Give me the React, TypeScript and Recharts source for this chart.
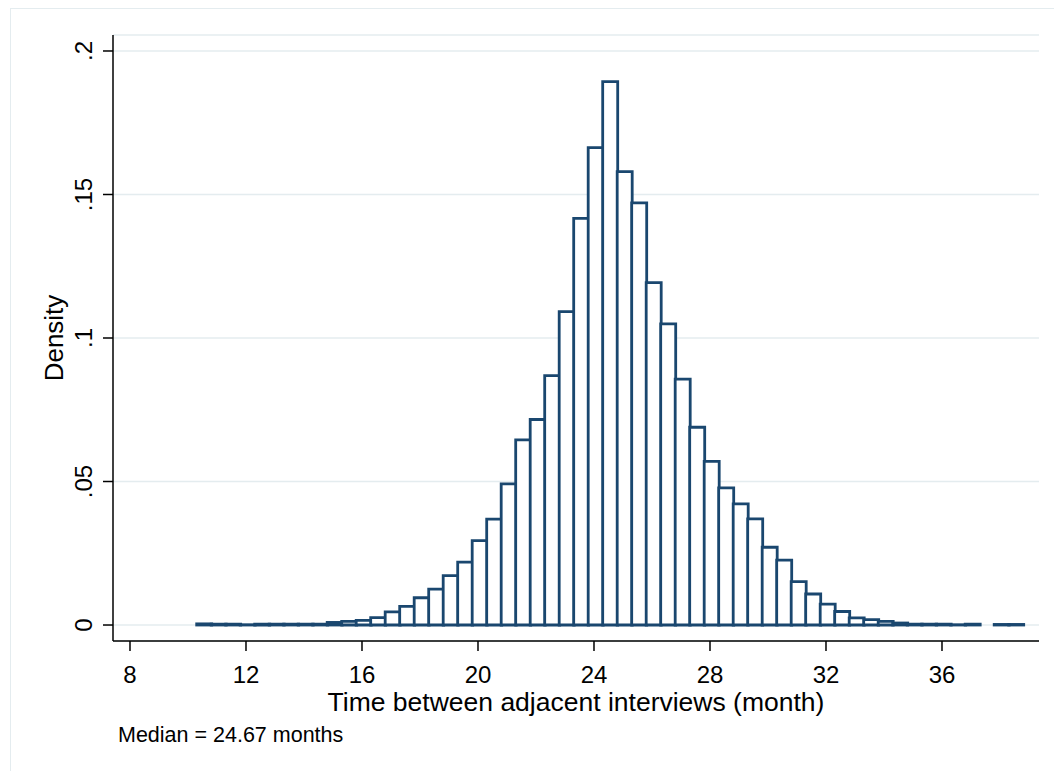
import { BarChart, Bar, XAxis, YAxis, CartesianGrid } from 'recharts';

// bin midpoints (months), bin width 0.5
const binMids = [
  10.55, 11.05, 11.55, 12.05, 12.55, 13.05, 13.55, 14.05, 14.55, 15.05,
  15.55, 16.05, 16.55, 17.05, 17.55, 18.05, 18.55, 19.05, 19.55, 20.05,
  20.55, 21.05, 21.55, 22.05, 22.55, 23.05, 23.55, 24.05, 24.55, 25.05,
  25.55, 26.05, 26.55, 27.05, 27.55, 28.05, 28.55, 29.05, 29.55, 30.05,
  30.55, 31.05, 31.55, 32.05, 32.55, 33.05, 33.55, 34.05, 34.55, 35.05,
  35.55, 36.05, 36.55, 37.05, 37.55, 38.05, 38.55,
];

const density = [
  0.0004, 0.0003, 0.0003, 0.0001, 0.0003, 0.0003, 0.0003, 0.0003, 0.0003, 0.0009,
  0.0013, 0.0016, 0.0026, 0.0046, 0.0065, 0.0095, 0.0125, 0.0172, 0.0219, 0.0294,
  0.0369, 0.0492, 0.0645, 0.0716, 0.0869, 0.1092, 0.1417, 0.1663, 0.1893, 0.158,
  0.1471, 0.1193, 0.1049, 0.0857, 0.0689, 0.057, 0.0478, 0.0422, 0.037, 0.0271,
  0.0226, 0.0151, 0.0108, 0.0073, 0.0047, 0.0025, 0.0019, 0.0013, 0.0007, 0.0003,
  0.0003, 0.0003, 0.0001, 0.0003, 0, 0.0002, 0.0002,
];

const xTicks = [8, 12, 16, 20, 24, 28, 32, 36];
const yTicks = [0, 0.05, 0.1, 0.15, 0.2];
const xTitle = 'Time between adjacent interviews (month)';
const yTitle = 'Density';
const note = 'Median = 24.67 months';

const NAVY = '#1a476f';
const GRID = '#e4ecef';
const FONT = '"Liberation Sans", Arial, Helvetica, sans-serif';

const data = binMids.map((mid, i) => ({ mid, density: density[i] }));

function fmtY(v: number) {
  return v === 0 ? '0' : String(v).replace(/^0/, '');
}

function YTick(props: any) {
  const { x, y, payload } = props;
  return (
    <text
      x={x}
      y={y}
      transform={`rotate(-90 ${x} ${y})`}
      textAnchor="middle"
      fontSize={24}
      fontFamily={FONT}
      fill="#000"
    >
      {fmtY(payload.value)}
    </text>
  );
}

export default function App() {
  return (
    <div
      style={{
        position: 'absolute',
        left: 0,
        top: 0,
        width: 1054,
        height: 771,
        overflow: 'hidden',
        background: '#fff',
        fontFamily: FONT,
      }}
    >
      <div
        style={{
          position: 'absolute',
          left: 10,
          top: 8,
          width: 1100,
          height: 800,
          border: `1.5px solid ${GRID}`,
        }}
      />
      <BarChart
        width={1054}
        height={771}
        data={data}
        margin={{ top: 35, right: 15, bottom: 80, left: 53 }}
        barCategoryGap={0}
        barGap={0}
        style={{ position: 'absolute', left: 0, top: 0 }}
      >
        <CartesianGrid vertical={false} stroke={GRID} strokeWidth={1.5} />
        <XAxis
          dataKey="mid"
          type="number"
          domain={[7.414, 39.345]}
          allowDataOverflow
          ticks={xTicks}
          interval={0}
          height={50}
          tickSize={10}
          tickMargin={15}
          axisLine={{ stroke: '#000', strokeWidth: 1.5 }}
          tickLine={{ stroke: '#000', strokeWidth: 1.5 }}
          tick={{ fontSize: 24, fill: '#000', fontFamily: FONT }}
        />
        <YAxis
          type="number"
          domain={[-0.00557, 0.20557]}
          allowDataOverflow
          ticks={yTicks}
          interval={0}
          width={60}
          tickSize={10}
          tickMargin={11}
          axisLine={{ stroke: '#000', strokeWidth: 1.5 }}
          tickLine={{ stroke: '#000', strokeWidth: 1.5 }}
          tick={<YTick />}
        />
        <Bar
          dataKey="density"
          fill="#fff"
          stroke={NAVY}
          strokeWidth={2.8}
          isAnimationActive={false}
        />
      </BarChart>
      <svg
        width={1054}
        height={771}
        style={{ position: 'absolute', left: 0, top: 0, pointerEvents: 'none' }}
      >
        <text x={576} y={711} textAnchor="middle" fontSize={26.5} fontFamily={FONT} fill="#000">
          {xTitle}
        </text>
        <text
          x={63}
          y={338}
          transform="rotate(-90 63 338)"
          textAnchor="middle"
          fontSize={26}
          fontFamily={FONT}
          fill="#000"
        >
          {yTitle}
        </text>
        <text x={118} y={742} fontSize={21.5} fontFamily={FONT} fill="#000">
          {note}
        </text>
      </svg>
    </div>
  );
}
